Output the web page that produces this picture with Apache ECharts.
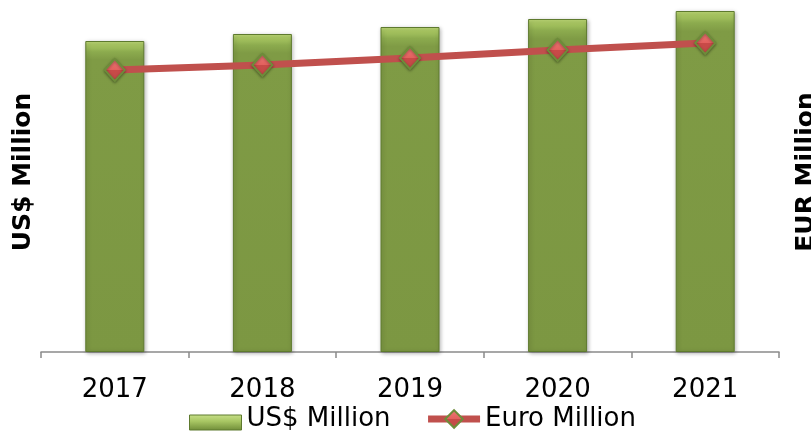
<!DOCTYPE html>
<html>
<head>
<meta charset="utf-8">
<script src="https://cdn.jsdelivr.net/npm/echarts@6/dist/echarts.min.js"></script>
<style>html,body{margin:0;padding:0;background:#fff}#c{width:811px;height:432px}</style>
</head>
<body>
<div id="c"></div>
<script>
var categories = ['2017', '2018', '2019', '2020', '2021'];
var usdMillion = [311, 318, 325, 333, 341];
var euroMillion = [282, 287, 294, 302, 309];
var seriesNames = ['US$ Million', 'Euro Million'];
var axisNames = ['US$ Million', 'EUR Million'];

var FONT = 'DejaVu Sans';
var chart = echarts.init(document.getElementById('c'));
var barColor = new echarts.graphic.LinearGradient(0, 0, 0, 1, [
  {offset: 0, color: '#c2dc7a'},
  {offset: 0.012, color: '#a9c762'},
  {offset: 0.035, color: '#8cab4e'},
  {offset: 0.06, color: '#7f9b45'},
  {offset: 1, color: '#7c9742'}
]);
var legendBarColor = new echarts.graphic.LinearGradient(0, 0, 0, 1, [
  {offset: 0, color: '#94b252'},
  {offset: 0.3, color: '#c8e08a'},
  {offset: 0.6, color: '#a8c663'},
  {offset: 1, color: '#6f8c38'}
]);
var markerColor = new echarts.graphic.LinearGradient(0, 0, 0, 1, [
  {offset: 0, color: '#ee7a77'},
  {offset: 0.5, color: '#e2605d'},
  {offset: 0.5, color: '#c94a48'},
  {offset: 1, color: '#c04a47'}
]);
chart.setOption({
  animation: false,
  grid: {left: 41, right: 32, top: 2, bottom: 80, outerBoundsMode: 'none', containLabel: false},
  legend: {
    left: 189, top: 406, padding: 0,
    itemWidth: 52, itemHeight: 22, itemGap: 34,
    textStyle: {fontFamily: FONT, fontSize: 26, color: '#000'},
    data: [
      {name: seriesNames[0], icon: 'path://M0,0L0,0M0,7H52V22H0Z',
        itemStyle: {color: legendBarColor, borderColor: '#5e7a2e', borderWidth: 1}},
      {name: seriesNames[1], lineStyle: {width: 7}}
    ]
  },
  xAxis: {
    type: 'category',
    data: categories,
    axisLine: {lineStyle: {color: '#8a8a8a', width: 1.5}},
    axisTick: {show: true, length: 6, lineStyle: {color: '#8a8a8a', width: 1.5}},
    axisLabel: {fontFamily: FONT, fontSize: 26, color: '#000', margin: 25}
  },
  yAxis: [
    {
      type: 'value', min: 0, max: 350,
      name: axisNames[0], nameLocation: 'middle', nameRotate: 90, nameGap: 5,
      nameTextStyle: {fontFamily: FONT, fontSize: 25, fontWeight: 'bold', color: '#000', padding: [0, 0, 0, 10]},
      axisLine: {show: false}, axisTick: {show: false}, axisLabel: {show: false}, splitLine: {show: false}
    },
    {
      type: 'value', min: 0, max: 350, position: 'right',
      name: axisNames[1], nameLocation: 'middle', nameRotate: 90, nameGap: 15,
      nameTextStyle: {fontFamily: FONT, fontSize: 25, fontWeight: 'bold', color: '#000', padding: [0, 0, 0, 10]},
      axisLine: {show: false}, axisTick: {show: false}, axisLabel: {show: false}, splitLine: {show: false}
    }
  ],
  series: [
    {
      name: seriesNames[0], type: 'bar', yAxisIndex: 0, data: usdMillion,
      barWidth: 59,
      itemStyle: {color: barColor, borderColor: '#5e7a2e', borderWidth: 1,
        shadowColor: 'rgba(0,0,0,0.3)', shadowBlur: 4, shadowOffsetX: 1, shadowOffsetY: 1}
    },
    {
      name: seriesNames[1], type: 'line', yAxisIndex: 1, data: euroMillion,
      symbol: 'diamond', symbolSize: [20, 22],
      lineStyle: {color: '#c0504d', width: 7},
      itemStyle: {color: markerColor, borderColor: '#6e8c3a', borderWidth: 2,
        shadowColor: 'rgba(0,0,0,0.35)', shadowBlur: 3, shadowOffsetY: 1}
    }
  ]
});
</script>
</body>
</html>
